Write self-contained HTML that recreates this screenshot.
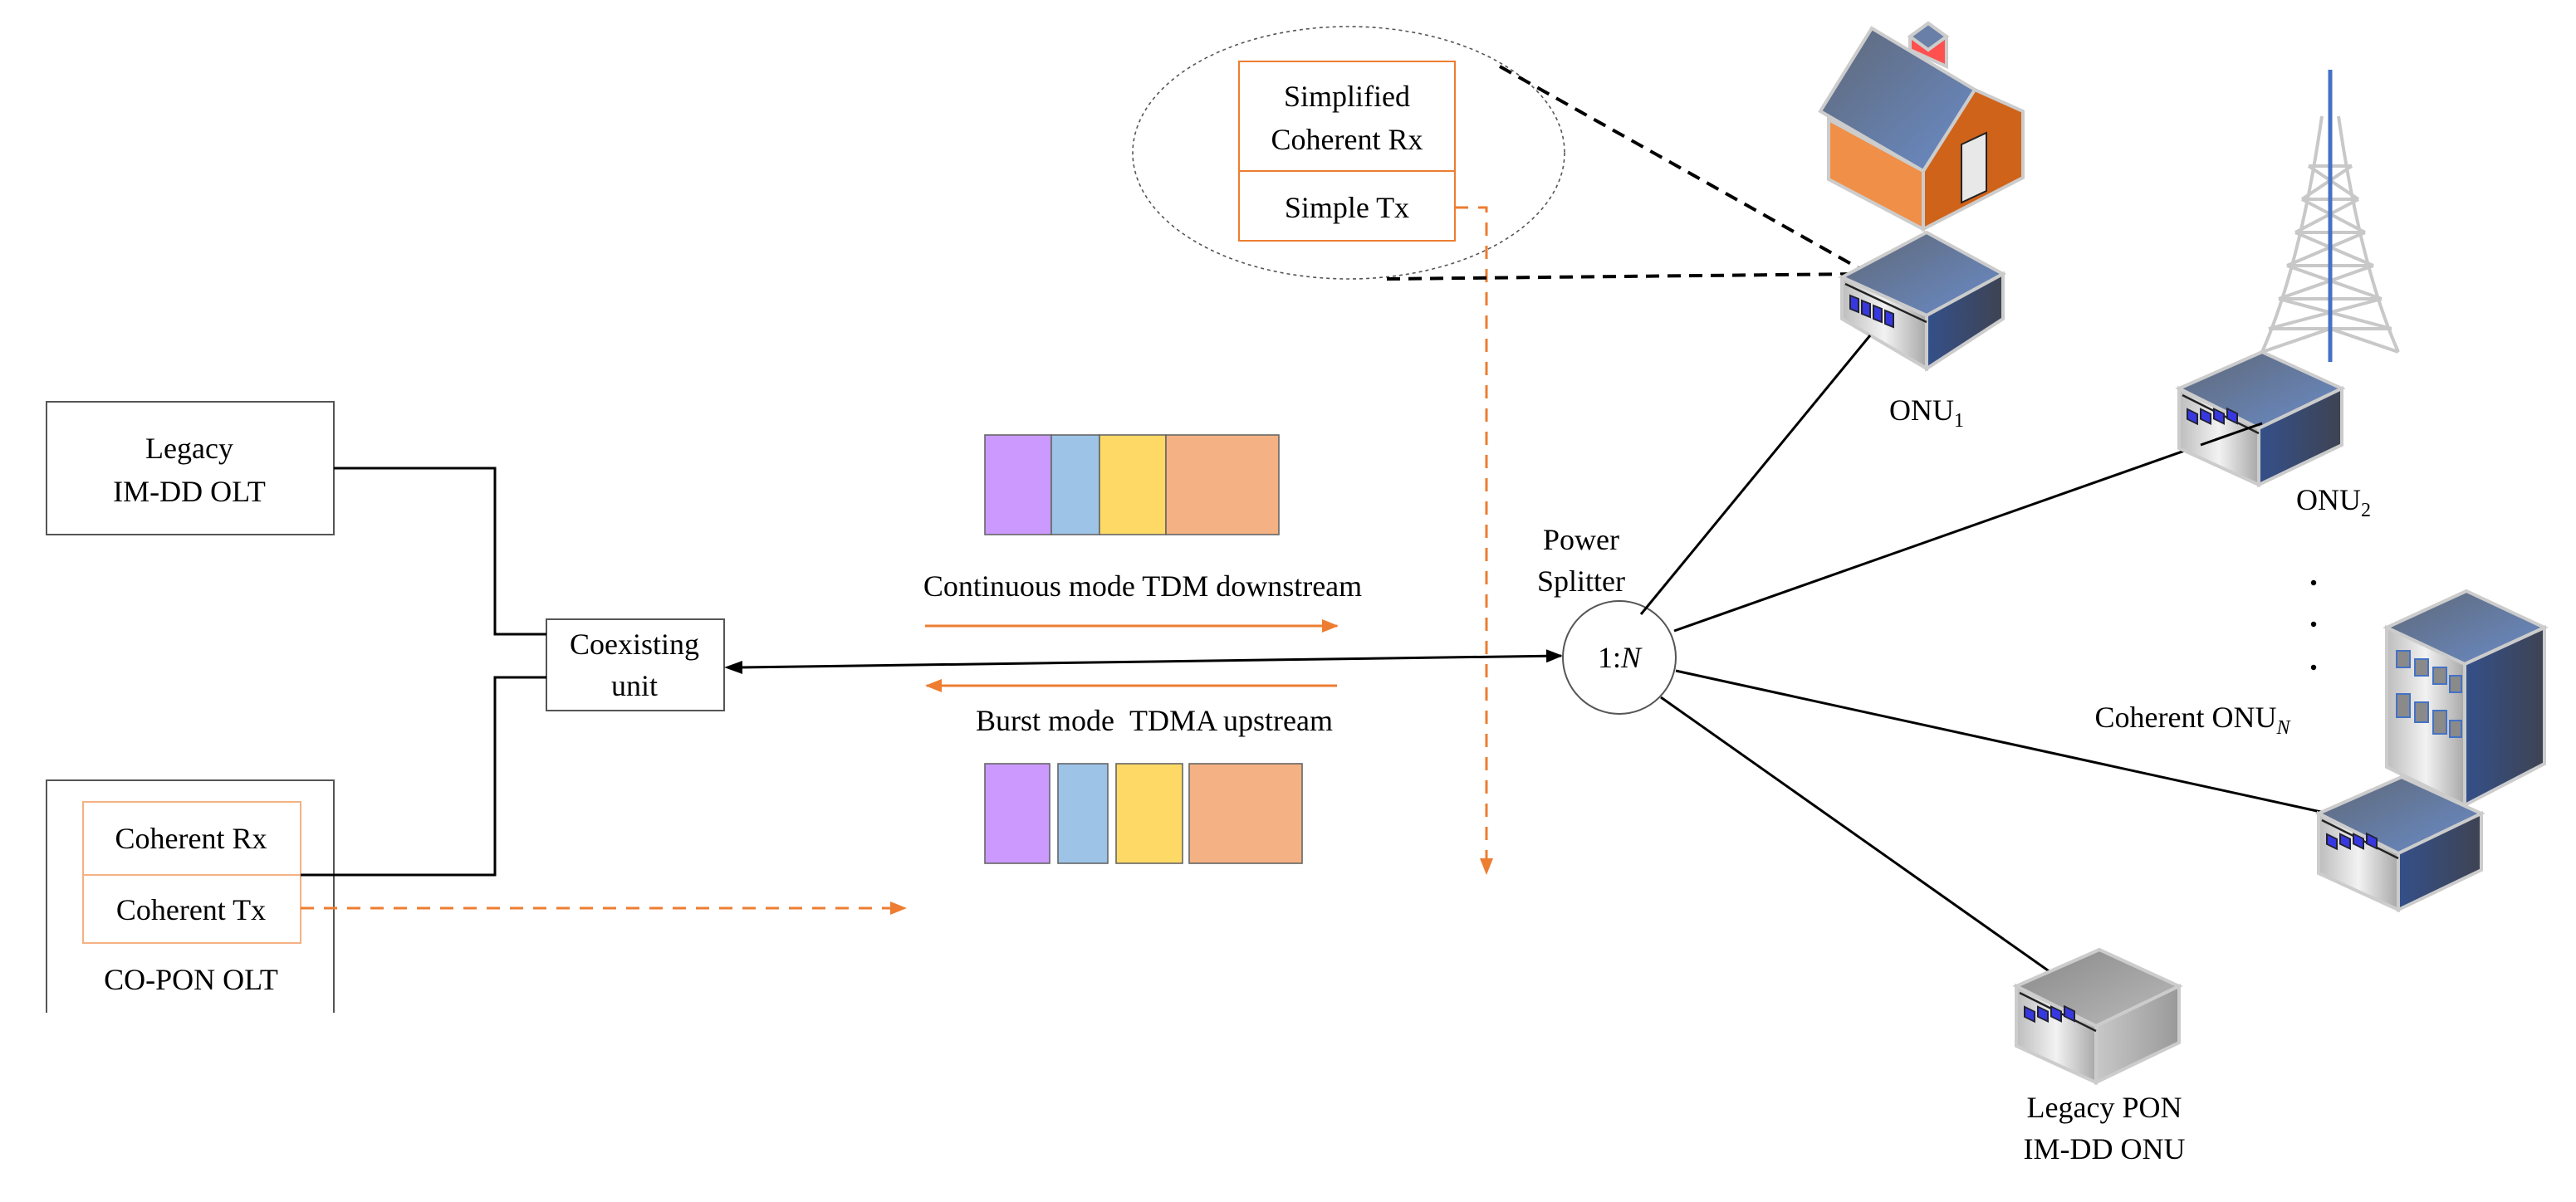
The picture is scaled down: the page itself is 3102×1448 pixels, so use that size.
<!DOCTYPE html>
<html><head><meta charset="utf-8"><style>
html,body{margin:0;padding:0;background:#fff}
svg{display:block}
text{font-family:"Liberation Serif",serif;font-size:18px;fill:#000}
</style></head><body>
<svg width="3102" height="1448" viewBox="0 0 1551 724" xmlns="http://www.w3.org/2000/svg">
<defs>
<linearGradient id="top" x1="0" y1="0" x2="1" y2="1"><stop offset="0" stop-color="#5f6878"/><stop offset="1" stop-color="#6a8cc8"/></linearGradient>
<linearGradient id="right" x1="0" y1="0" x2="1" y2="0"><stop offset="0" stop-color="#34508a"/><stop offset="1" stop-color="#3e4352"/></linearGradient>
<linearGradient id="left" x1="0" y1="0" x2="1" y2="0"><stop offset="0" stop-color="#bdbdbd"/><stop offset="0.5" stop-color="#f2f2f2"/><stop offset="1" stop-color="#a8a8a8"/></linearGradient>
<linearGradient id="gtop" x1="0" y1="0" x2="1" y2="1"><stop offset="0" stop-color="#888"/><stop offset="1" stop-color="#bbb"/></linearGradient>
<linearGradient id="gright" x1="0" y1="0" x2="1" y2="0"><stop offset="0" stop-color="#c8c8c8"/><stop offset="1" stop-color="#999"/></linearGradient>
<marker id="ab" markerWidth="10" markerHeight="8" refX="9" refY="4" orient="auto" markerUnits="userSpaceOnUse"><path d="M0,0 L10,4 L0,8 z" fill="#000"/></marker>
<marker id="ao" markerWidth="10" markerHeight="8" refX="9" refY="4" orient="auto" markerUnits="userSpaceOnUse"><path d="M0,0 L10,4 L0,8 z" fill="#ed7d31"/></marker>
<g id="dev">
<polygon points="0,22 50,0 98,22 48,46" fill="url(#top)" stroke="#ccc" stroke-width="2"/>
<polygon points="0,22 48,46 48,80 0,58" fill="url(#left)" stroke="#ccc" stroke-width="2"/>
<polygon points="48,46 98,22 98,56 48,80" fill="url(#right)" stroke="#ccc" stroke-width="2"/>
<line x1="2" y1="26" x2="48" y2="49" stroke="#222" stroke-width="1.2"/>
<g fill="#3838e0" stroke="#223">
<rect x="5" y="34" width="6" height="6" transform="skewY(26) translate(0,-2)"/>
<rect x="13" y="34" width="6" height="6" transform="skewY(26) translate(0,-6)"/>
<rect x="21" y="34" width="6" height="6" transform="skewY(26) translate(0,-10)"/>
<rect x="29" y="34" width="6" height="6" transform="skewY(26) translate(0,-14)"/>
</g>
</g>
<g id="gdev">
<polygon points="0,22 50,0 98,22 48,46" fill="url(#gtop)" stroke="#ccc" stroke-width="2"/>
<polygon points="0,22 48,46 48,80 0,58" fill="url(#left)" stroke="#ccc" stroke-width="2"/>
<polygon points="48,46 98,22 98,56 48,80" fill="url(#gright)" stroke="#ccc" stroke-width="2"/>
<line x1="2" y1="26" x2="48" y2="49" stroke="#222" stroke-width="1.2"/>
<g fill="#3838e0" stroke="#223">
<rect x="5" y="34" width="6" height="6" transform="skewY(26) translate(0,-2)"/>
<rect x="13" y="34" width="6" height="6" transform="skewY(26) translate(0,-6)"/>
<rect x="21" y="34" width="6" height="6" transform="skewY(26) translate(0,-10)"/>
<rect x="29" y="34" width="6" height="6" transform="skewY(26) translate(0,-14)"/>
</g>
</g>
</defs>

<!-- OLT boxes -->
<rect x="28" y="242" width="173" height="80" fill="#fff" stroke="#555" stroke-width="1"/>
<text x="114" y="276" text-anchor="middle">Legacy</text>
<text x="114" y="302" text-anchor="middle">IM-DD OLT</text>
<path d="M28,610 V470 H201 V610" fill="none" stroke="#555" stroke-width="1"/>
<rect x="50" y="483" width="131" height="44" fill="#fff" stroke="#f4b183" stroke-width="1"/>
<rect x="50" y="527" width="131" height="41" fill="#fff" stroke="#f4b183" stroke-width="1"/>
<text x="115" y="511" text-anchor="middle">Coherent Rx</text>
<text x="115" y="554" text-anchor="middle">Coherent Tx</text>
<text x="115" y="596" text-anchor="middle">CO-PON OLT</text>

<rect x="329" y="373" width="107" height="55" fill="#fff" stroke="#555" stroke-width="1"/>
<text x="382" y="394" text-anchor="middle">Coexisting</text>
<text x="382" y="419" text-anchor="middle">unit</text>

<path d="M201,282 H298 V382 H329" fill="none" stroke="#000" stroke-width="1.5"/>
<path d="M181,527 H298 V408 H329" fill="none" stroke="#000" stroke-width="1.5"/>

<line x1="446" y1="402" x2="940" y2="395" stroke="#000" stroke-width="1.5" marker-end="url(#ab)"/>
<polygon points="436,402 447,398 447,406" fill="#000"/>

<!-- frames -->
<rect x="593" y="262" width="40" height="60" fill="#cc99ff" stroke="#666" stroke-width="0.8"/>
<rect x="633" y="262" width="29" height="60" fill="#9dc3e6" stroke="#666" stroke-width="0.8"/>
<rect x="662" y="262" width="40" height="60" fill="#ffd966" stroke="#666" stroke-width="0.8"/>
<rect x="702" y="262" width="68" height="60" fill="#f4b183" stroke="#666" stroke-width="0.8"/>
<rect x="593" y="460" width="39" height="60" fill="#cc99ff" stroke="#666" stroke-width="0.8"/>
<rect x="637" y="460" width="30" height="60" fill="#9dc3e6" stroke="#666" stroke-width="0.8"/>
<rect x="672" y="460" width="40" height="60" fill="#ffd966" stroke="#666" stroke-width="0.8"/>
<rect x="716" y="460" width="68" height="60" fill="#f4b183" stroke="#666" stroke-width="0.8"/>
<text x="688" y="359" text-anchor="middle">Continuous mode TDM downstream</text>
<line x1="557" y1="377" x2="805" y2="377" stroke="#ed7d31" stroke-width="1.5" marker-end="url(#ao)"/>
<line x1="805" y1="413" x2="558" y2="413" stroke="#ed7d31" stroke-width="1.5" marker-end="url(#ao)"/>
<text x="695" y="440" text-anchor="middle">Burst mode &#160;TDMA upstream</text>

<!-- orange dashed -->
<line x1="181" y1="547" x2="545" y2="547" stroke="#ed7d31" stroke-width="1.5" stroke-dasharray="8,6" marker-end="url(#ao)"/>
<path d="M876,125 H895 V526" fill="none" stroke="#ed7d31" stroke-width="1.5" stroke-dasharray="8,6" marker-end="url(#ao)"/>

<!-- ellipse -->
<ellipse cx="812" cy="92" rx="130" ry="76" fill="none" stroke="#555" stroke-width="0.8" stroke-dasharray="2,2"/>
<rect x="746" y="37" width="130" height="66" fill="#fff" stroke="#ed7d31" stroke-width="1"/>
<rect x="746" y="103" width="130" height="42" fill="#fff" stroke="#ed7d31" stroke-width="1"/>
<text x="811" y="64" text-anchor="middle">Simplified</text>
<text x="811" y="90" text-anchor="middle">Coherent Rx</text>
<text x="811" y="131" text-anchor="middle">Simple Tx</text>
<line x1="903" y1="40" x2="1120" y2="162" stroke="#000" stroke-width="2" stroke-dasharray="8,5"/>
<line x1="835" y1="168" x2="1118" y2="165" stroke="#000" stroke-width="2" stroke-dasharray="8,5"/>

<!-- splitter & links -->
<line x1="1008" y1="380" x2="1362" y2="255" stroke="#000" stroke-width="1.5"/>
<line x1="1009" y1="404" x2="1402" y2="490" stroke="#000" stroke-width="1.5"/>
<line x1="1000" y1="420" x2="1238" y2="588" stroke="#000" stroke-width="1.5"/>
<circle cx="975" cy="396" r="34" fill="#fff" stroke="#555" stroke-width="1"/>
<text x="975" y="402" text-anchor="middle">1:<tspan font-style="italic">N</tspan></text>
<text x="952" y="331" text-anchor="middle">Power</text>
<text x="952" y="356" text-anchor="middle">Splitter</text>

<!-- house -->
<g stroke="#ccc" stroke-width="2">
<polygon points="1150,22 1161,14 1172,22 1172,40 1150,30" fill="#ff5050"/>
<polygon points="1150,22 1161,14 1172,22 1161,30" fill="#6a7fa8"/>
<polygon points="1101,72 1158,103 1158,138 1101,108" fill="#ef8f48"/>
<polygon points="1158,103 1189,54 1218,67 1218,107 1158,138" fill="#d0631a"/>
<polygon points="1127,17 1189,54 1158,103 1096,67" fill="url(#top)"/>
<polygon points="1181,87 1196,80 1196,115 1181,122" fill="#e8e8e8" stroke="#222" stroke-width="1"/>
</g>
<!-- ONU1 -->
<g stroke="#ccc" stroke-width="2">
<polygon points="1160,140 1206,165 1160,190 1109,167" fill="url(#top)"/>
<polygon points="1109,167 1160,190 1160,222 1109,192" fill="url(#left)"/>
<polygon points="1160,190 1206,165 1206,192 1160,222" fill="url(#right)"/>
</g>
<line x1="1111" y1="171" x2="1160" y2="194" stroke="#222" stroke-width="1.2"/>
<g fill="#3838e0" stroke="#223">
<polygon points="1114,178 1119,180 1119,188 1114,186"/>
<polygon points="1121,181 1126,183 1126,191 1121,189"/>
<polygon points="1128,184 1133,186 1133,194 1128,192"/>
<polygon points="1135,187 1140,189 1140,197 1135,195"/>
</g>
<line x1="988" y1="370" x2="1126" y2="202" stroke="#000" stroke-width="1.5"/>
<text x="1160" y="253" text-anchor="middle">ONU<tspan font-size="12" dy="4">1</tspan></text>

<!-- tower -->
<g stroke="#c8c8c8" stroke-width="2" fill="none">
<path d="M1398,70 Q1385,160 1362,212 M1408,70 Q1421,160 1444,212"/>
<path d="M1390,100 H1416 M1386,120 H1420 M1382,140 H1424 M1377,160 H1429 M1372,180 H1434 M1366,198 H1440 M1362,212 L1403,198 L1444,212"/>
<path d="M1390,100 L1420,120 M1416,100 L1386,120 M1386,120 L1424,140 M1420,120 L1382,140 M1382,140 L1429,160 M1424,140 L1377,160 M1377,160 L1434,180 M1429,160 L1372,180 M1372,180 L1440,198 M1434,180 L1366,198"/>
</g>
<line x1="1403" y1="42" x2="1403" y2="218" stroke="#4472c4" stroke-width="2.5"/>
<use href="#dev" transform="translate(1312,212)"/>
<line x1="1325" y1="268" x2="1362" y2="255" stroke="#000" stroke-width="1.5"/>
<text x="1405" y="307" text-anchor="middle">ONU<tspan font-size="12" dy="4">2</tspan></text>

<circle cx="1393" cy="351" r="1.6" fill="#000"/>
<circle cx="1393" cy="376" r="1.6" fill="#000"/>
<circle cx="1393" cy="402" r="1.6" fill="#000"/>
<text x="1320" y="438" text-anchor="middle">Coherent ONU<tspan font-size="12" dy="4" font-style="italic">N</tspan></text>

<!-- building -->
<g stroke="#ccc" stroke-width="2">
<polygon points="1437,378 1485,356 1532,378 1484,400" fill="url(#top)"/>
<polygon points="1437,378 1484,400 1484,485 1437,462" fill="url(#left)"/>
<polygon points="1484,400 1532,378 1532,460 1484,485" fill="url(#right)"/>
</g>
<g fill="#8a8a8a" stroke="#4472c4" stroke-width="1">
<rect x="1443" y="392" width="8" height="10"/><rect x="1454" y="397" width="8" height="10"/><rect x="1465" y="402" width="8" height="10"/><rect x="1475" y="407" width="7" height="10"/>
<rect x="1443" y="418" width="8" height="14"/><rect x="1454" y="423" width="8" height="12"/><rect x="1465" y="428" width="8" height="14"/><rect x="1475" y="434" width="7" height="10"/>
</g>
<use href="#dev" transform="translate(1396,468)"/>
<use href="#gdev" transform="translate(1214,572)"/>
<text x="1267" y="673" text-anchor="middle">Legacy PON</text>
<text x="1267" y="698" text-anchor="middle">IM-DD ONU</text>
</svg>
</body></html>
